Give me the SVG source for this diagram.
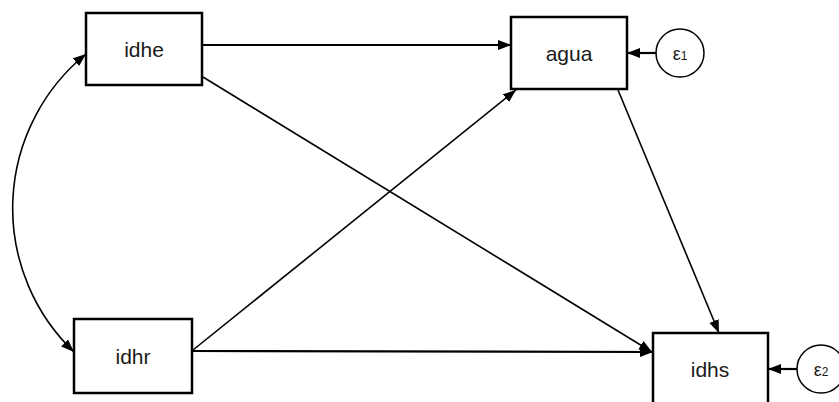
<svg xmlns="http://www.w3.org/2000/svg" width="839" height="402" viewBox="0 0 839 402">
<defs>
<style>
.box{fill:#fff;stroke:#000;stroke-width:2.5}
.err{fill:#fff;stroke:#000;stroke-width:1.5}
.lbl{font-family:"Liberation Sans",Arial,sans-serif;font-size:21px;fill:#1a1a1a;text-anchor:middle}
.eps{font-family:"Liberation Sans",Arial,sans-serif;font-size:18px;fill:#1a1a1a;text-anchor:middle}
.sub{font-size:12px}
.c{fill:none;stroke:#000;stroke-width:1.6}
.h{fill:none;stroke:#000;stroke-width:2.2}
</style>
<marker id="ah" markerUnits="userSpaceOnUse" markerWidth="14" markerHeight="11" viewBox="0 0 14 11" refX="13" refY="5.5" orient="auto-start-reverse">
<path d="M0,0.5 L13,5.5 L0,10.5 Z" fill="#000"/>
</marker>
</defs>
<g id="connectors">
<path class="c" d="M86 54 A199 199 0 0 0 74 352" marker-start="url(#ah)" marker-end="url(#ah)"/>
<line class="h" x1="202" y1="45" x2="511" y2="45" marker-end="url(#ah)"/>
<line class="c" x1="203" y1="77" x2="652" y2="352" marker-end="url(#ah)"/>
<line class="c" x1="193" y1="350" x2="516" y2="90" marker-end="url(#ah)"/>
<line class="h" x1="192" y1="351" x2="653" y2="352" marker-end="url(#ah)"/>
<line class="c" x1="618" y1="90" x2="719" y2="333" marker-end="url(#ah)"/>
<line class="h" x1="656" y1="53" x2="627" y2="53" marker-end="url(#ah)"/>
<line class="h" x1="797" y1="369" x2="768" y2="369" marker-end="url(#ah)"/>
</g>
<g id="idhe">
<rect class="box" x="86" y="13" width="116" height="72"/>
<text class="lbl" x="144" y="57">idhe</text>
</g>
<g id="agua">
<rect class="box" x="511" y="17" width="116" height="72"/>
<text class="lbl" x="569" y="61">agua</text>
</g>
<g id="idhr">
<rect class="box" x="74" y="319" width="118" height="74"/>
<text class="lbl" x="133" y="364">idhr</text>
</g>
<g id="idhs">
<rect class="box" x="653" y="333" width="115" height="72"/>
<text class="lbl" x="710" y="377">idhs</text>
</g>
<g id="e1">
<circle class="err" cx="680" cy="53" r="24"/>
<text class="eps" x="680" y="60">ε<tspan class="sub">1</tspan></text>
</g>
<g id="e2">
<circle class="err" cx="821" cy="369" r="24"/>
<text class="eps" x="821" y="376">ε<tspan class="sub">2</tspan></text>
</g>
</svg>
